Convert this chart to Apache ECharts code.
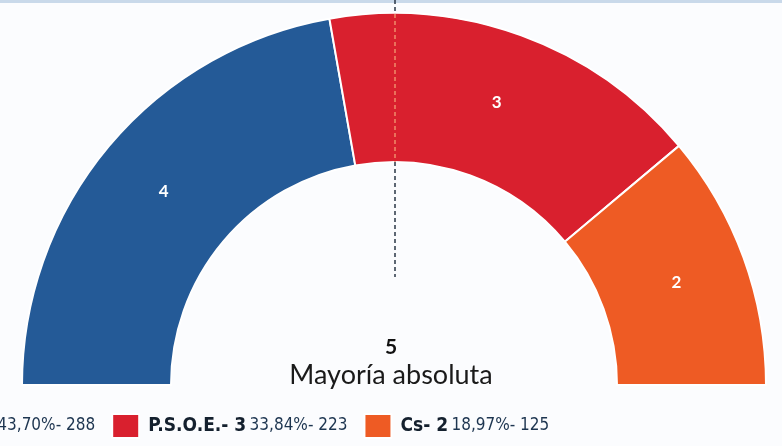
<!DOCTYPE html>
<html>
<head>
<meta charset="utf-8">
<script src="https://cdn.jsdelivr.net/npm/echarts@6/dist/echarts.min.js"></script>
<style>
  html, body { margin: 0; padding: 0; background: #fbfcfe; }
  #chart { width: 782px; height: 446px; }
</style>
</head>
<body>
<div id="chart"></div>
<script>
// partidos y escaños
var parties = ['P.P.', 'P.S.O.E.', 'Cs'];
var seats = [4, 3, 2];
var percents = ['43,70%', '33,84%', '18,97%'];
var votes = [288, 223, 125];
var colors = ['#245a97', '#d9202e', '#ee5b24'];
var majority = 5;

var chart = echarts.init(document.getElementById('chart'));

var pieData = [];
for (var i = 0; i < parties.length; i++) {
  pieData.push({ name: parties[i], value: seats[i], itemStyle: { color: colors[i] } });
}

chart.setOption({
  backgroundColor: '#fbfcfe',
  animation: false,
  legend: {
    data: parties,
    left: -104,
    top: 408,
    icon: 'rect',
    itemWidth: 27,
    itemHeight: 24,
    itemGap: 16,
    formatter: function (name) {
      var k = parties.indexOf(name);
      return '{b|' + name + '- ' + seats[k] + '} {n|' + percents[k] + '- ' + votes[k] + '}';
    },
    textStyle: {
      padding: [0, 0, 0, 4],
      rich: {
        b: { fontFamily: 'DejaVu Sans Condensed', fontWeight: 'bold', fontSize: 19, color: '#14202e' },
        n: { fontFamily: 'DejaVu Sans Condensed', fontSize: 17, color: '#1d3550' }
      }
    }
  },
  graphic: [
    { type: 'rect', shape: { x: 0, y: 0, width: 782, height: 3 }, style: { fill: '#c9d9ea' } },
    { type: 'line', z: 10, shape: { x1: 395, y1: 0, x2: 395, y2: 14 }, style: { stroke: '#2a3646', lineWidth: 1.5, lineDash: [4, 3] } },
    { type: 'line', z: 10, shape: { x1: 395, y1: 14, x2: 395, y2: 162 }, style: { stroke: '#f08a6a', lineWidth: 1.5, lineDash: [4, 3] } },
    { type: 'line', z: 10, shape: { x1: 395, y1: 162, x2: 395, y2: 277 }, style: { stroke: '#2a3646', lineWidth: 1.5, lineDash: [4, 3] } },
    { type: 'text', left: 'center', top: 337, style: { text: String(majority), font: 'bold 21px Lato', fill: '#111' } },
    { type: 'text', left: 'center', top: 362, style: { text: 'Mayoría absoluta', font: '27px Lato', fill: '#1a1a1a' } }
  ],
  series: [{
    type: 'pie',
    center: [394, 385],
    radius: [223, 372],
    startAngle: 180,
    endAngle: 0,
    clockwise: true,
    silent: true,
    itemStyle: { borderColor: '#ffffff', borderWidth: 2 },
    label: {
      show: true,
      position: 'inside',
      formatter: '{c}',
      color: '#fff',
      fontFamily: 'Lato',
      fontWeight: 'bold',
      fontSize: 17
    },
    labelLine: { show: false },
    data: pieData
  }]
});
</script>
</body>
</html>
